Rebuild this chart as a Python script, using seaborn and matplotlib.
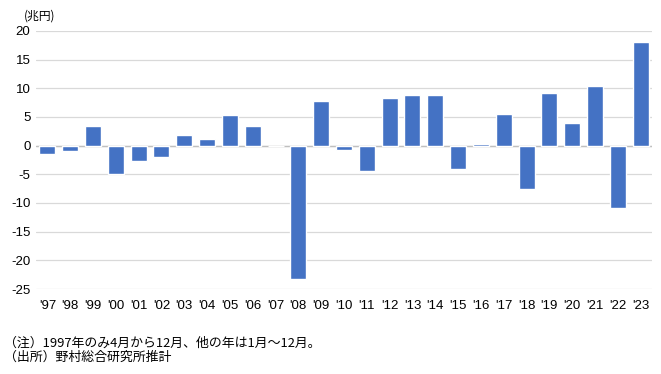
import matplotlib
matplotlib.use("Agg")
import matplotlib.pyplot as plt
import seaborn as sns
import pandas as pd

years = ["'97", "'98", "'99", "'00", "'01", "'02", "'03", "'04", "'05", "'06", "'07", "'08", "'09",
         "'10", "'11", "'12", "'13", "'14", "'15", "'16", "'17", "'18", "'19", "'20", "'21", "'22", "'23"]
values = [-1.4, -1.0, 3.5, -4.9, -2.6, -1.9, 1.8, 1.1, 5.3, 3.4, 0.0, -23.2, 7.8,
          -0.7, -4.4, 8.3, 8.8, 8.8, -4.0, 0.3, 5.5, -7.5, 9.1, 3.9, 10.4, -10.8, 18.1]
yticks = [20, 15, 10, 5, 0, -5, -10, -15, -20, -25]
unit_label = "(兆円)"
note1 = "（注）1997年のみ4月から12月、他の年は1月～12月。"
note2 = "（出所）野村総合研究所推計"

sns.set_theme(style="white")
plt.rcParams['font.family'] = ['Noto Sans CJK JP', 'DejaVu Sans']

df = pd.DataFrame({"year": years, "value": values})

fig = plt.figure(figsize=(6.61, 3.74), dpi=100)
ax = fig.add_axes([36/661, 1-289/374, (652-36)/661, (289-31)/374])
sns.barplot(data=df, x="year", y="value", color="#4472C4", saturation=1, width=0.7, ax=ax, zorder=3)
ax.set_ylim(-25, 20)
ax.set_yticks(yticks)
ax.set_yticklabels([str(t) for t in yticks], fontsize=9.5, color="#000000", family=['Liberation Sans', 'DejaVu Sans'])
ax.set_xticks(range(len(years)))
ax.set_xticklabels(years, fontsize=9.5, color="#000000", family=['Liberation Sans', 'DejaVu Sans'])
ax.set_xlabel("")
ax.set_ylabel("")
ax.grid(axis="y", color="#d9d9d9", linewidth=0.9, zorder=0)
ax.axhline(0, color="#bfbfbf", linewidth=1.0, zorder=2)
for s in ax.spines.values():
    s.set_visible(False)
ax.tick_params(axis="both", length=0, pad=4)
ax.tick_params(axis="x", pad=8)
ax.set_xlim(-0.5, len(years) - 0.5)

fig.text(24/661, 1-16/374, unit_label, fontsize=8.5, va="center", ha="left", color="#000000")
fig.text(4/661, 1-343/374, note1, fontsize=9.3, va="center", ha="left", color="#000000")
fig.text(4/661, 1-357/374, note2, fontsize=9.3, va="center", ha="left", color="#000000")

fig.savefig("out.png", dpi=100)
